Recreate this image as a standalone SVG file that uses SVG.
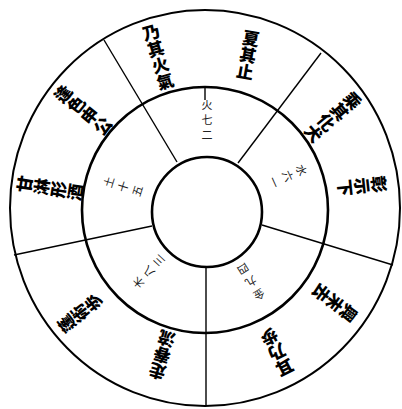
<svg xmlns="http://www.w3.org/2000/svg" width="402" height="409" viewBox="0 0 402 409">
<style>
.ring{fill:none;stroke:#000}
.div{stroke:#000;stroke-width:1.4;fill:none}
.ot{font-family:"Noto Sans CJK JP","Noto Sans CJK SC",sans-serif;font-size:17px;font-weight:900;fill:#000;writing-mode:vertical-rl;text-anchor:middle}
.it{font-family:"Noto Sans CJK JP","Noto Sans CJK SC",sans-serif;font-size:11px;font-weight:400;fill:#222;writing-mode:vertical-rl;text-anchor:middle;letter-spacing:4px}
</style>
<rect width="402" height="409" fill="#fff"/>
<g id="rings">
<ellipse id="outer" class="ring" cx="205" cy="208" rx="195" ry="198" stroke-width="2"/>
<circle id="middle" class="ring" cx="205" cy="210" r="123" stroke-width="2.6"/>
<circle id="inner" class="ring" cx="207" cy="212" r="55" stroke-width="2.6"/>
</g>
<g id="connectors">
<line class="div" x1="177" y1="162" x2="104" y2="40"/>
<line class="div" x1="238" y1="163" x2="321" y2="53"/>
<line class="div" x1="262" y1="225" x2="393" y2="265"/>
<line class="div" x1="206" y1="267" x2="206" y2="406"/>
<line class="div" x1="152" y1="226" x2="14" y2="255"/>
<line class="div" x1="205" y1="87" x2="205" y2="100"/>
</g>
<g id="outer-texts">
<text class="ot" transform="translate(158,57) rotate(-16)">乃其火氣</text>
<text class="ot" transform="translate(248,55) rotate(10)">夏其止</text>
<text class="ot" transform="translate(333,117) rotate(50)">乘其化犬</text>
<text class="ot" transform="translate(362,186) rotate(84)">彰示下</text>
<text class="ot" transform="translate(335,303) rotate(127)">興末去</text>
<text class="ot" transform="translate(277,352) rotate(153)">耳乃歩</text>
<text class="ot" transform="translate(162,355) rotate(196)">走春流</text>
<text class="ot" transform="translate(80,313) rotate(232)">蓬術歩</text>
<text class="ot" transform="translate(50,188) rotate(279)">甘淋形酒</text>
<text class="ot" transform="translate(83,110) rotate(309)">逢色申公</text>
</g>
<g id="inner-texts">
<text class="it" transform="translate(207,122) rotate(0)">火七二</text>
<text class="it" transform="translate(286,177) rotate(66)">水六一</text>
<text class="it" transform="translate(250,280) rotate(148)">金九四</text>
<text class="it" transform="translate(150,270) rotate(223)">木八三</text>
<text class="it" transform="translate(125,187) rotate(287)">土十五</text>
</g>
</svg>
